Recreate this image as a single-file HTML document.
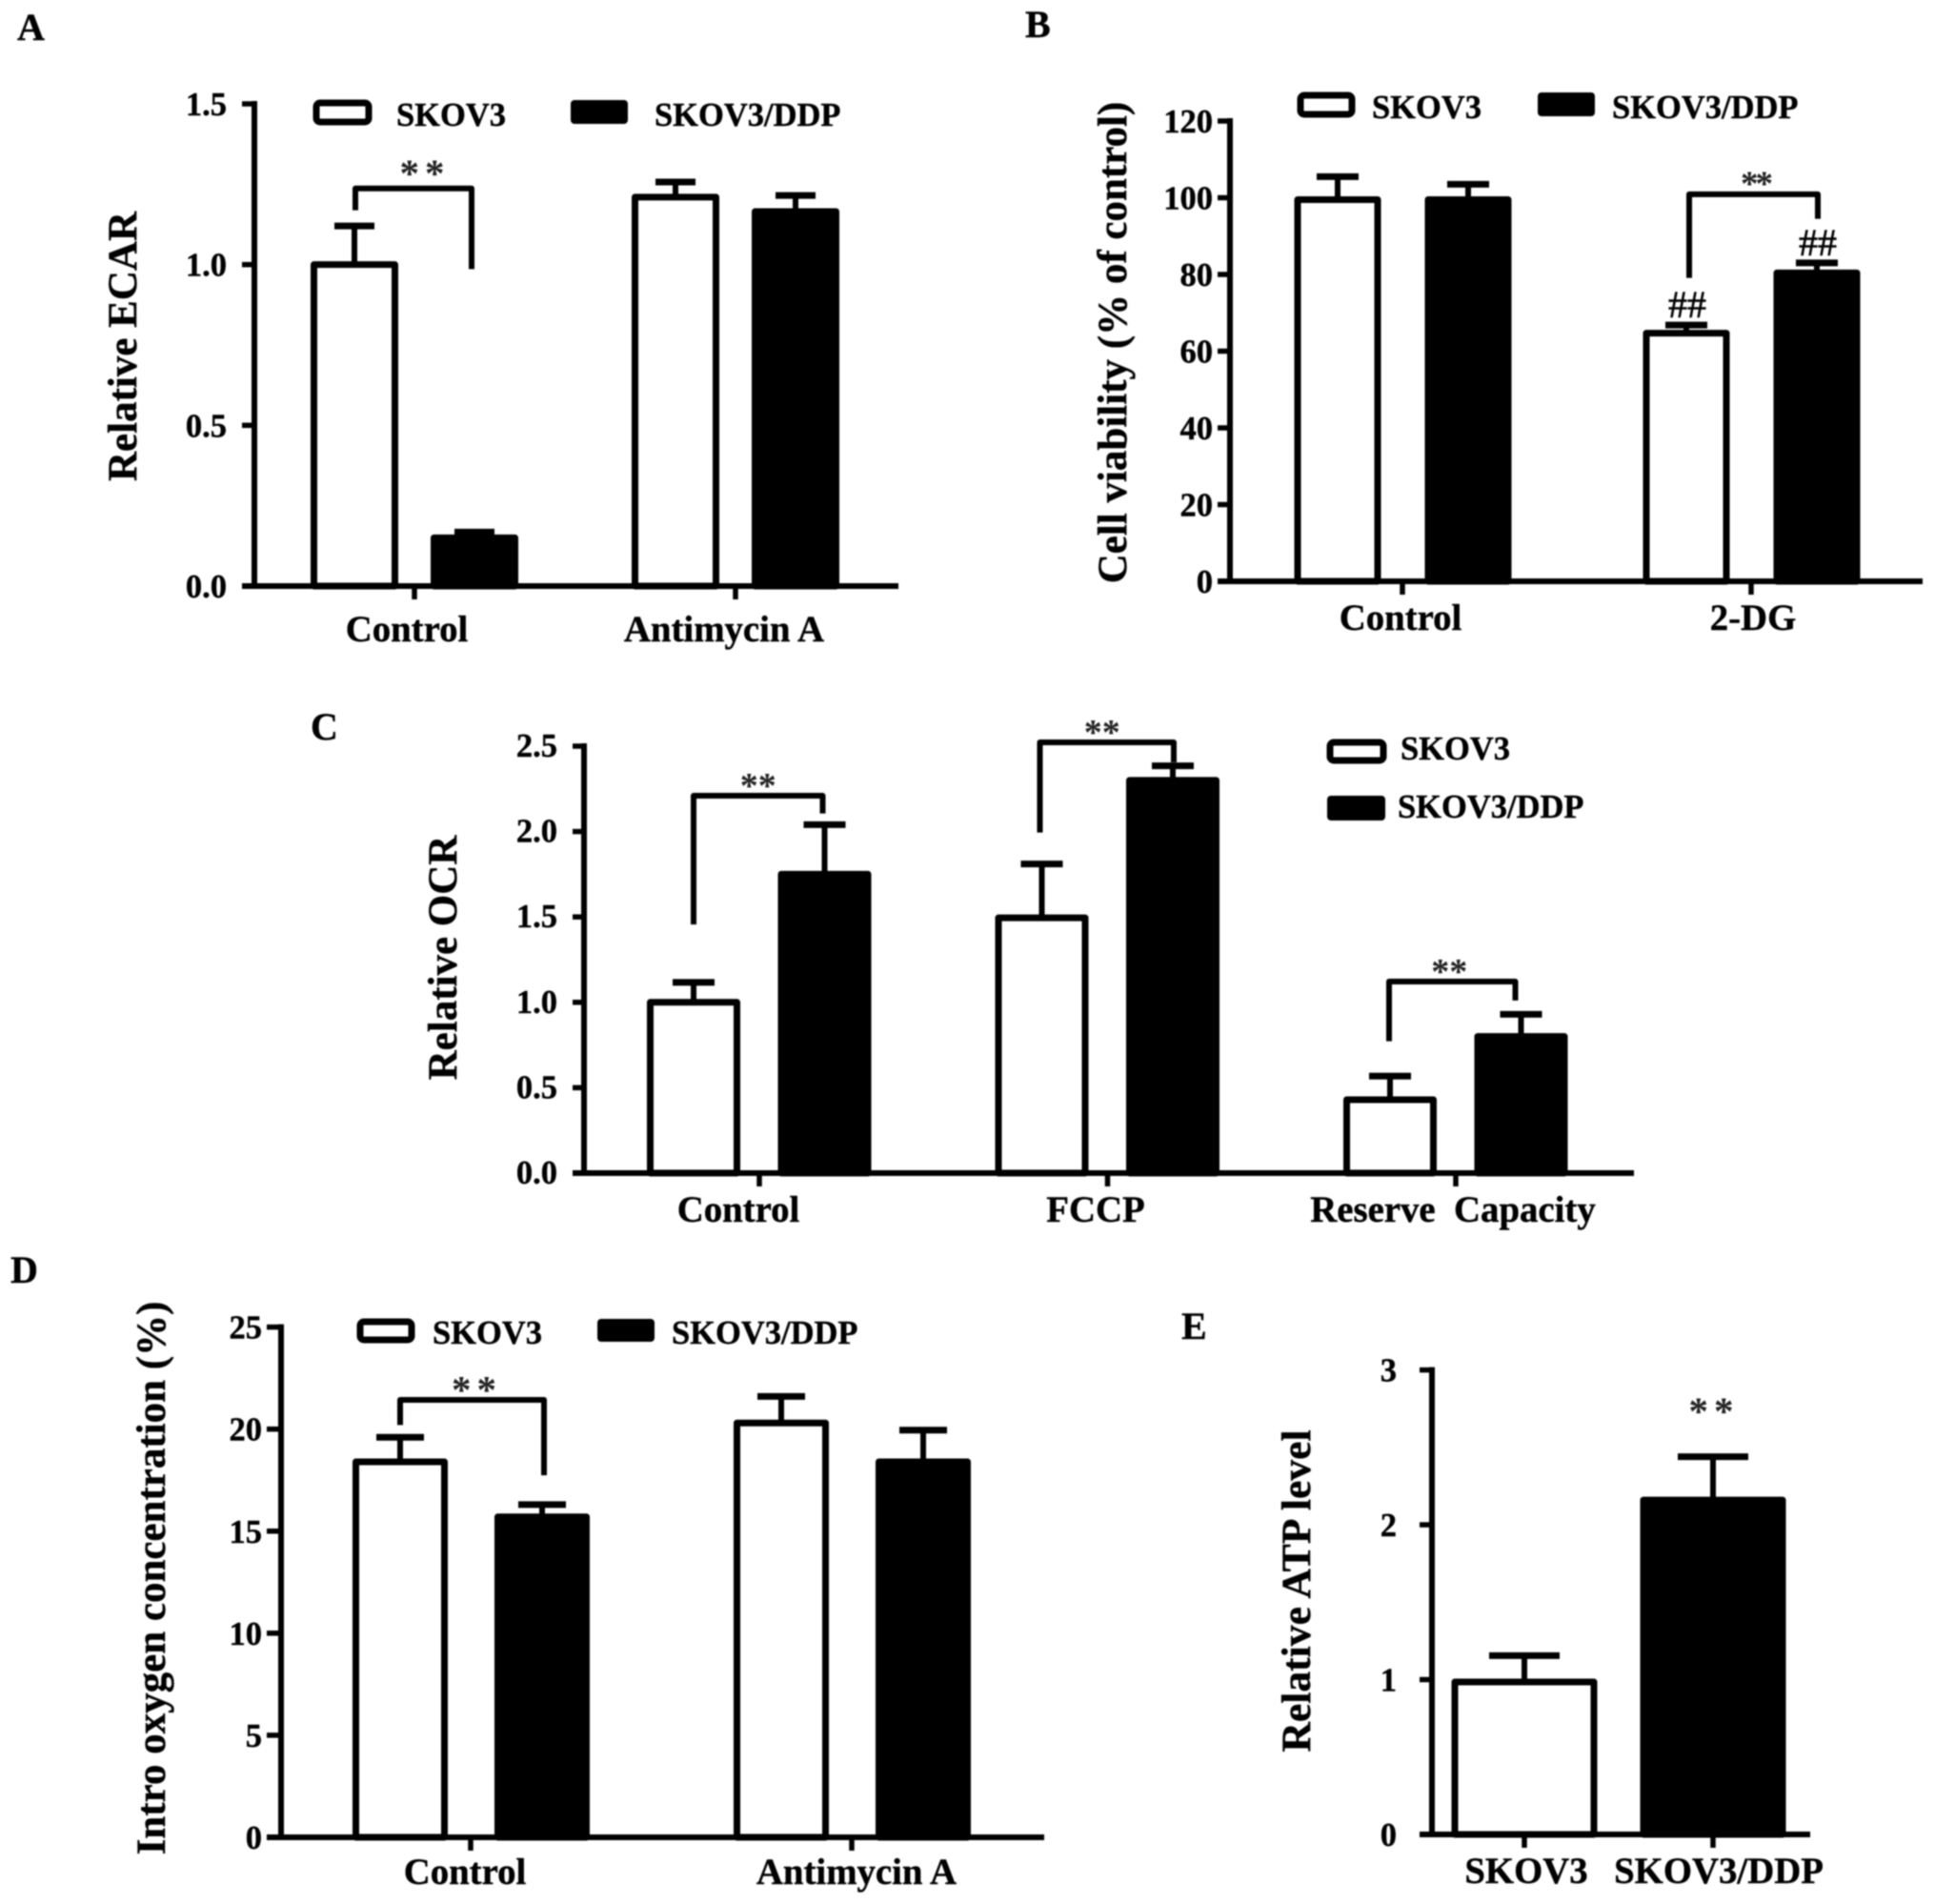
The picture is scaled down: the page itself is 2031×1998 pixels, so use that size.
<!DOCTYPE html>
<html lang="en">
<head>
<meta charset="utf-8">
<title>SKOV3 and SKOV3/DDP metabolic measurements</title>
<style>
html,body{margin:0;padding:0;background:#fff;}
svg{display:block;filter:blur(0.9px);}
text{font-family:"Liberation Serif",serif;font-weight:bold;fill:#000;stroke:#000;stroke-width:0.4px;}
.panel-letter{font-size:40px;}
.axis-title{font-size:43px;text-anchor:middle;}
.legend-text{font-size:34.5px;}
.tick-label{font-size:34.5px;text-anchor:end;}
.cat-label{font-size:38.8px;text-anchor:middle;}
.star{text-anchor:middle;fill:#222;stroke:none;}
.hash{font-size:40px;text-anchor:middle;font-weight:normal;stroke-width:0.6px;}
</style>
</head>
<body>
<svg id="figure" width="2031" height="1998" viewBox="0 0 2031 1998" xmlns="http://www.w3.org/2000/svg">
  <rect x="0" y="0" width="2031" height="1998" fill="#fff"/>

  <g id="panel-a">
    <text class="panel-letter" x="18" y="42">A</text>
    <text class="axis-title" transform="translate(143 363.5) rotate(-90)">Relative ECAR</text>
    <rect x="332" y="108" width="55" height="20" rx="4" fill="#fff" stroke="#000" stroke-width="7"/>
    <text class="legend-text" x="416" y="132">SKOV3</text>
    <rect x="599" y="105" width="60" height="25" rx="4" fill="#000"/>
    <text class="legend-text" x="687" y="132">SKOV3/DDP</text>
  </g>

  <g id="panel-b">
    <text class="panel-letter" x="1076" y="39">B</text>
    <text class="axis-title" transform="translate(1182 359.5) rotate(-90)">Cell viability (% of control)</text>
    <rect x="1365" y="100" width="54" height="20" rx="4" fill="#fff" stroke="#000" stroke-width="7"/>
    <text class="legend-text" x="1440" y="124">SKOV3</text>
    <rect x="1614" y="97" width="60" height="25" rx="4" fill="#000"/>
    <text class="legend-text" x="1692" y="124">SKOV3/DDP</text>
  </g>

  <g id="panel-c">
    <text class="panel-letter" x="326" y="776">C</text>
    <text class="axis-title" transform="translate(479 1005) rotate(-90)">Relative OCR</text>
    <rect x="1396" y="779" width="56" height="19" rx="4" fill="#fff" stroke="#000" stroke-width="7"/>
    <text class="legend-text" x="1470" y="797">SKOV3</text>
    <rect x="1393" y="835" width="61" height="26" rx="4" fill="#000"/>
    <text class="legend-text" x="1467" y="858">SKOV3/DDP</text>
  </g>

  <g id="panel-d">
    <text class="panel-letter" x="11" y="1346">D</text>
    <text class="axis-title" transform="translate(173 1656) rotate(-90)">Intro oxygen concentration (%)</text>
    <rect x="378" y="1387" width="54" height="19" rx="4" fill="#fff" stroke="#000" stroke-width="7"/>
    <text class="legend-text" x="454" y="1410">SKOV3</text>
    <rect x="627" y="1384" width="60" height="24" rx="4" fill="#000"/>
    <text class="legend-text" x="705" y="1410">SKOV3/DDP</text>
  </g>

  <g id="panel-e">
    <text class="panel-letter" x="1240" y="1405">E</text>
    <text class="axis-title" style="font-size:43.6px" transform="translate(1375 1669.5) rotate(-90)">Relative ATP level</text>
  </g>
</svg>

<script>
// Panel A: Relative ECAR
const panelACategories = ['Control', 'Antimycin A'];
const panelATickValues = [0, 0.5, 1, 1.5];
const panelATickLabels = ['0.0', '0.5', '1.0', '1.5'];
const panelASkov3 = [1.0, 1.21];
const panelASkov3Err = [0.12, 0.047];
const panelADdp = [0.15, 1.165];
const panelADdpErr = [0.018, 0.05];
const panelABrackets = [{ cat: 0, top: 1.237, left: 1.169, right: 0.986 }];

// Panel B: Cell viability
const panelBCategories = ['Control', '2-DG'];
const panelBTickValues = [0, 20, 40, 60, 80, 100, 120];
const panelBTickLabels = ['0', '20', '40', '60', '80', '100', '120'];
const panelBSkov3 = [99.5, 64.7];
const panelBSkov3Err = [6.0, 2.1];
const panelBDdp = [99.5, 80.4];
const panelBDdpErr = [4.0, 2.6];
const panelBBrackets = [{ cat: 1, top: 100.9, left: 79.1, right: 94.5 }];
const panelBHashes = [{ cat: 1, series: 0, text: '##' }, { cat: 1, series: 1, text: '##' }];

// Panel C: Relative OCR
const panelCCategories = ['Control', 'FCCP', 'Reserve  Capacity'];
const panelCTickValues = [0, 0.5, 1, 1.5, 2, 2.5];
const panelCTickLabels = ['0.0', '0.5', '1.0', '1.5', '2.0', '2.5'];
const panelCSkov3 = [1.0, 1.495, 0.43];
const panelCSkov3Err = [0.117, 0.315, 0.138];
const panelCDdp = [1.75, 2.30, 0.80];
const panelCDdpErr = [0.29, 0.085, 0.13];
const panelCBrackets = [
  { cat: 0, top: 2.21, left: 1.456, right: 2.106 },
  { cat: 1, top: 2.522, left: 1.994, right: 2.406 },
  { cat: 2, top: 1.122, left: 0.772, right: 1.011 }
];

// Panel D: Intro oxygen concentration
const panelDCategories = ['Control', 'Antimycin A'];
const panelDTickValues = [0, 5, 10, 15, 20, 25];
const panelDTickLabels = ['0', '5', '10', '15', '20', '25'];
const panelDSkov3 = [18.4, 20.3];
const panelDSkov3Err = [1.2, 1.3];
const panelDDdp = [15.7, 18.4];
const panelDDdpErr = [0.6, 1.55];
const panelDBrackets = [{ cat: 0, top: 21.43, left: 20.2, right: 17.74 }];

// Panel E: Relative ATP level
const panelECategories = ['SKOV3', 'SKOV3/DDP'];
const panelETickValues = [0, 1, 2, 3];
const panelETickLabels = ['0', '1', '2', '3'];
const panelEValues = [0.985, 2.16];
const panelEErrors = [0.17, 0.28];
const panelEStarLevels = [{ cat: 1, value: 2.65 }];

const SVG_NS = 'http://www.w3.org/2000/svg';

function make(parent, tag, attrs, name, content) {
  const el = document.createElementNS(SVG_NS, tag);
  Object.keys(attrs).forEach(function (k) { el.setAttribute(k, attrs[k]); });
  
  
  if (content !== undefined) el.textContent = content;
  parent.appendChild(el);
  return el;
}

function line(parent, x1, y1, x2, y2, w, name) {
  return make(parent, 'line', { x1: x1, y1: y1, x2: x2, y2: y2, stroke: '#000', 'stroke-width': w }, name);
}

function drawPanel(p) {
  const root = document.getElementById('panel-' + p.key);
  const yScale = function (v) { return p.yBase - (v / p.yMax) * (p.yBase - p.yTop); };
  const xBand = function (i) { return p.x0 + i * p.step; };
  const strokeW = 7;

  // bars and error bars
  p.series.forEach(function (s, si) {
    s.values.forEach(function (v, i) {
      const cx = xBand(i) + s.offset;
      const yT = yScale(v);
      const yErr = yScale(v + s.errors[i]);
      const fill = s.fills ? s.fills[i] : s.fill;
      line(root, cx, yT, cx, yErr, 6, 'error-bar-' + p.key + '-' + si + '-' + i);
      line(root, cx - p.capW / 2, yErr, cx + p.capW / 2, yErr, 7, 'error-cap-' + p.key + '-' + si + '-' + i);
      make(root, 'rect', {
        x: cx - p.barW / 2 + strokeW / 2,
        y: yT,
        width: p.barW - strokeW,
        height: Math.max(0, p.yBase - yT),
        fill: fill,
        stroke: '#000',
        'stroke-width': strokeW,
        'stroke-linejoin': 'round'
      }, 'bar-' + p.key + '-' + si + '-' + i);
    });
  });

  // y axis
  line(root, p.axisX, p.yTop - 3, p.axisX, p.yBase + 3, 6, 'y-axis-' + p.key);
  p.tickValues.forEach(function (v, i) {
    const y = yScale(v);
    line(root, p.axisX - p.tickLen, y, p.axisX, y, 5.5, 'y-tick-' + p.key + '-' + i);
    make(root, 'text', { class: 'tick-label', x: p.tickLabelX, y: y + 12 + p.tickDy }, 'y-tick-label-' + p.key + '-' + i, p.tickLabels[i]);
  });

  // x axis
  line(root, p.axisX - p.tickLen, p.yBase, p.axisRight, p.yBase, 6, 'x-axis-' + p.key);
  p.categories.forEach(function (c, i) {
    const x = xBand(i);
    line(root, x, p.yBase, x, p.yBase + 14, 5.5, 'x-tick-' + p.key + '-' + i);
    make(root, 'text', { class: 'cat-label', style: 'white-space:pre', x: x + p.labelNudge[i], y: p.labelY }, 'x-category-label-' + p.key + '-' + i, c);
  });

  // significance brackets
  (p.brackets || []).forEach(function (b, i) {
    const nudge = p.bracketNudge[i];
    const xL = xBand(b.cat) + p.series[0].offset + nudge[0];
    const xR = xBand(b.cat) + p.series[1].offset + nudge[1];
    const yTop = yScale(b.top);
    make(root, 'path', {
      d: 'M' + xL + ' ' + yScale(b.left) + 'V' + yTop + 'H' + xR + 'V' + yScale(b.right),
      fill: 'none', stroke: '#000', 'stroke-width': 6, 'stroke-linejoin': 'round'
    }, 'significance-bracket-' + p.key + '-' + i);
    make(root, 'text', {
      class: 'star',
      x: (xL + xR) / 2 + nudge[2],
      y: yTop + p.starDy,
      style: 'font-size:' + p.starSize + 'px;letter-spacing:' + p.starSpacing + 'px'
    }, 'significance-stars-' + p.key + '-' + i, '**');
  });

  // standalone stars
  (p.starLevels || []).forEach(function (st, i) {
    make(root, 'text', {
      class: 'star',
      x: xBand(st.cat) + 1,
      y: yScale(st.value),
      style: 'font-size:' + p.starSize + 'px;letter-spacing:' + p.starSpacing + 'px'
    }, 'significance-stars-' + p.key + '-' + i, '**');
  });

  // hash annotations above error bars
  (p.hashes || []).forEach(function (h, i) {
    const s = p.series[h.series];
    make(root, 'text', {
      class: 'hash',
      x: xBand(h.cat) + s.offset + 1,
      y: yScale(s.values[h.cat] + s.errors[h.cat]) - 8
    }, 'hash-annotation-' + p.key + '-' + i, h.text);
  });
}

drawPanel({
  key: 'a', x0: 435, step: 337, yBase: 615, yTop: 109, yMax: 1.5,
  axisX: 267, axisRight: 943, tickLen: 13, tickLabelX: 238, tickDy: 0, labelY: 673,
  barW: 92, capW: 42,
  categories: panelACategories, tickValues: panelATickValues, tickLabels: panelATickLabels,
  labelNudge: [-8, -12],
  series: [
    { values: panelASkov3, errors: panelASkov3Err, fill: '#fff', offset: -63 },
    { values: panelADdp, errors: panelADdpErr, fill: '#000', offset: 63 }
  ],
  brackets: panelABrackets, bracketNudge: [[1, -3, 12]], starDy: -2, starSize: 41, starSpacing: 6,
  starLevels: []
});

drawPanel({
  key: 'b', x0: 1472, step: 366, yBase: 610, yTop: 127, yMax: 120,
  axisX: 1291, axisRight: 2018, tickLen: 13, tickLabelX: 1273, tickDy: 0, labelY: 661,
  barW: 91, capW: 44,
  categories: panelBCategories, tickValues: panelBTickValues, tickLabels: panelBTickLabels,
  labelNudge: [-2, 2],
  series: [
    { values: panelBSkov3, errors: panelBSkov3Err, fill: '#fff', offset: -68 },
    { values: panelBDdp, errors: panelBDdpErr, fill: '#000', offset: 69 }
  ],
  brackets: panelBBrackets, bracketNudge: [[3, 1, 2]], starDy: 1, starSize: 37, starSpacing: -3,
  hashes: panelBHashes
});

drawPanel({
  key: 'c', x0: 797, step: 365.5, yBase: 1231, yTop: 783, yMax: 2.5,
  axisX: 613, axisRight: 1715, tickLen: 12, tickLabelX: 585, tickDy: -1, labelY: 1282,
  barW: 98, capW: 44,
  categories: panelCCategories, tickValues: panelCTickValues, tickLabels: panelCTickLabels,
  labelNudge: [-22, -12.5, -3],
  series: [
    { values: panelCSkov3, errors: panelCSkov3Err, fill: '#fff', offset: -69 },
    { values: panelCDdp, errors: panelCDdpErr, fill: '#000', offset: 68.5 }
  ],
  brackets: panelCBrackets,
  bracketNudge: [[0, -2, 0], [-2, 1, -5], [-1, -6, -3]], starDy: 2, starSize: 38, starSpacing: 0
});

drawPanel({
  key: 'd', x0: 494, step: 400, yBase: 1928, yTop: 1392.6, yMax: 25,
  axisX: 295, axisRight: 1096, tickLen: 15, tickLabelX: 275, tickDy: 0, labelY: 1977,
  barW: 100, capW: 50,
  categories: panelDCategories, tickValues: panelDTickValues, tickLabels: panelDTickLabels,
  labelNudge: [-6, 5],
  series: [
    { values: panelDSkov3, errors: panelDSkov3Err, fill: '#fff', offset: -74 },
    { values: panelDDdp, errors: panelDDdpErr, fill: '#000', offset: 75 }
  ],
  brackets: panelDBrackets, bracketNudge: [[0, 2, 5]], starDy: 3, starSize: 41, starSpacing: 6
});

drawPanel({
  key: 'e', x0: 1600, step: 198, yBase: 1925, yTop: 1437.6, yMax: 3,
  axisX: 1503, axisRight: 1900, tickLen: 13, tickLabelX: 1466, tickDy: 0, labelY: 1976,
  barW: 153, capW: 74,
  categories: panelECategories, tickValues: panelETickValues, tickLabels: panelETickLabels,
  labelNudge: [2, 6],
  series: [
    { values: panelEValues, errors: panelEErrors, fills: ['#fff', '#000'], offset: 0 }
  ],
  starLevels: panelEStarLevels, starSize: 41, starSpacing: 6
});
</script>
</body>
</html>
